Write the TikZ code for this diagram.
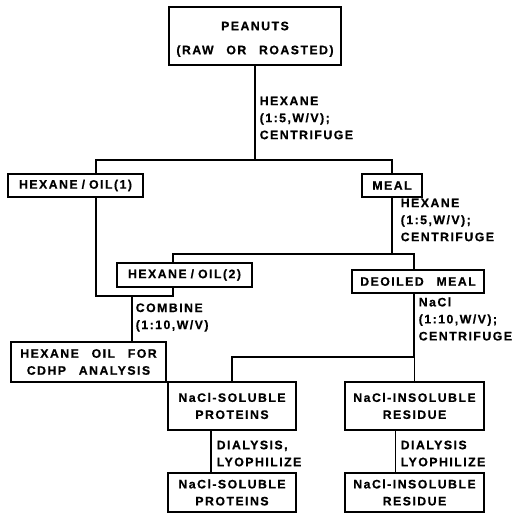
\documentclass[tikz,border=0pt]{standalone}
\usepackage{fontspec}
\newfontfamily\flowfont{Liberation Sans}[LetterSpace=12, WordSpace=2.6, FakeBold=0.6]
\newcommand{\wslash}{\kern4pt/\kern4pt}
\tikzstyle{flowchart}=[
    x=1pt, y=-1pt,
    line width=1.5pt,
    every node/.style={font=\flowfont\bfseries\fontsize{12.3}{17}\selectfont},
]
\tikzstyle{box}=[draw, align=center, inner sep=0pt]
\tikzstyle{step note}=[anchor=west, align=left, inner sep=0pt]

\begin{document}
\begin{tikzpicture}[flowchart]
        \useasboundingbox (0,0) rectangle (520,517);
        % boxes
        \node (peanuts) at (255,36) [box, minimum width=172, minimum height=58, text height=39pt] {PEANUTS\\[7pt](RAW OR ROASTED)};
        \node (oil1) at (75.5,185.5) [box, minimum width=135, minimum height=23] {HEXANE\wslash OIL(1)};
        \node (meal) at (392,185.5) [box, minimum width=60, minimum height=23] {MEAL};
        \node (oil2) at (184.5,275) [box, minimum width=135, minimum height=24] {HEXANE\wslash OIL(2)};
        \node (deoiled) at (418,281.5) [box, minimum width=132, minimum height=23] {DEOILED MEAL};
        \node (cdhp) at (88.5,362) [box, minimum width=155, minimum height=40] {HEXANE OIL FOR\\CDHP ANALYSIS};
        \node (solA) at (232,406) [box, minimum width=128, minimum height=48] {NaCl-SOLUBLE\\PROTEINS};
        \node (insA) at (414.5,406) [box, minimum width=139, minimum height=48] {NaCl-INSOLUBLE\\RESIDUE};
        \node (solB) at (232,492.5) [box, minimum width=128, minimum height=39] {NaCl-SOLUBLE\\PROTEINS};
        \node (insB) at (414.5,492.5) [box, minimum width=139, minimum height=39] {NaCl-INSOLUBLE\\RESIDUE};
        % branch points
        \coordinate (fork1) at (255,160);
        \coordinate (fork2) at (392,254);
        \coordinate (join) at (132,296);
        \coordinate (fork3) at (414,357);
        % connectors
        \draw (peanuts) -- (fork1);
        \draw ([xshift=20.5pt]oil1.north) |- (fork1) -| (meal);
        \draw (meal) -- (fork2);
        \draw ([xshift=-11.5pt]oil2.north) |- (fork2) -| ([xshift=-4pt]deoiled.north);
        \draw ([xshift=20.5pt]oil1.south) |- (join) -| ([xshift=-11.5pt]oil2.south);
        \draw (join) -- (join |- cdhp.north);
        \draw ([xshift=-4pt]deoiled.south) -- (fork3);
        \draw (solA) |- (fork3) -| (insA);
        \draw ([xshift=-21pt]solA.south) -- ([xshift=-21pt]solB.north);
        \draw ([xshift=-19pt]insA.south) -- ([xshift=-19pt]insB.north);
        % step conditions
        \node (hex1) at (259,118) [step note] {HEXANE\\(1:5,W/V);\\CENTRIFUGE};
        \node (hex2) at (400,220) [step note] {HEXANE\\(1:5,W/V);\\CENTRIFUGE};
        \node (comb) at (135,317.5) [step note] {COMBINE\\(1:10,W/V)};
        \node (nacl) at (418,319) [step note] {NaCl\\(1:10,W/V);\\CENTRIFUGE};
        \node (dial1) at (216,453.5) [step note] {DIALYSIS,\\LYOPHILIZE};
        \node (dial2) at (400,453.5) [step note] {DIALYSIS\\LYOPHILIZE};
    \end{tikzpicture}
\end{document}
